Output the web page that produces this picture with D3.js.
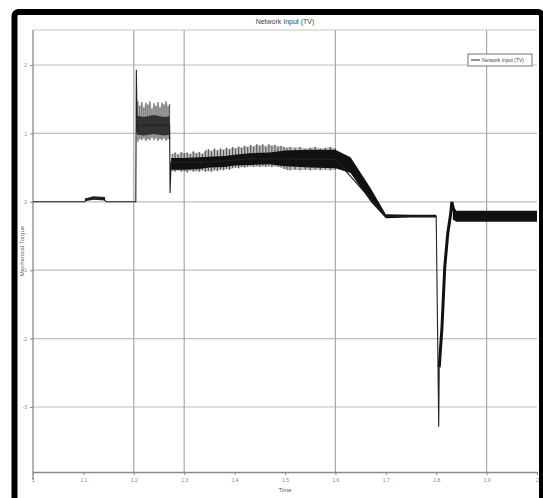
<!DOCTYPE html>
<html><head><meta charset="utf-8">
<script src="https://cdn.jsdelivr.net/npm/d3@7"></script>
<style>body{margin:0;background:#fff}svg{display:block}text{font-family:"Liberation Sans",Arial,sans-serif}</style>
</head><body><svg id="c" width="543" height="498"></svg>
<script>
const titleText = "Network Input (TV)";
const legendText = "Network Input (TV)";
const xLabel = "Time";
const yLabel = "Mechanical Torque";
const xTicks = [1, 1.1, 1.2, 1.3, 1.4, 1.5, 1.6, 1.7, 1.8, 1.9, 2];
const xTickLabels = ["1", "1.1", "1.2", "1.3", "1.4", "1.5", "1.6", "1.7", "1.8", "1.9", "2"];
const yTicks = [2, 1, 0, -1, -2, -3];
const yTickLabels = ["2", "1", "0", "-1", "-2", "-3"];
const vGrid = [1.2, 1.3, 1.6, 1.9];

// main trace [t, value]
const traceMain = [[1.0,0],[1.103,0],[1.105,0.04],[1.14,0.05],[1.145,0],[1.204,0],[1.205,1.93],[1.207,1.0],[1.209,1.12],[1.271,1.12],[1.272,0.13],[1.274,0.58],[1.35,0.58],[1.43,0.63],[1.60,0.62],[1.70,-0.21],[1.80,-0.21],[1.805,-3.29],[1.806,-2.42]];
const traceRecovery = [[1.806,-2.42],[1.8115,-1.83],[1.817,-0.95],[1.823,-0.46],[1.829,-0.16],[1.831,0.0],[1.834,-0.10],[1.84,-0.20],[2.0,-0.21]];

// outer oscillation envelope samples [t, low, high]
const stripes = [
 [1.208,0.88,1.47],[1.212,0.92,1.40],[1.216,0.90,1.46],[1.220,0.93,1.38],[1.224,0.89,1.45],[1.228,0.92,1.42],
 [1.232,0.90,1.47],[1.236,0.94,1.36],[1.240,0.90,1.44],[1.244,0.93,1.40],[1.248,0.89,1.46],[1.252,0.92,1.38],
 [1.256,0.90,1.45],[1.260,0.93,1.42],[1.264,0.89,1.47],[1.268,0.92,1.40],[1.271,0.90,1.43],
 [1.276,0.45,0.70],[1.282,0.44,0.72],[1.288,0.46,0.69],[1.294,0.44,0.73],[1.300,0.45,0.71],[1.306,0.43,0.72],
 [1.312,0.46,0.70],[1.318,0.44,0.74],[1.324,0.45,0.71],[1.330,0.44,0.73],[1.336,0.46,0.70],[1.342,0.44,0.75],
 [1.348,0.45,0.77],[1.354,0.44,0.74],[1.360,0.46,0.78],[1.366,0.45,0.75],[1.372,0.47,0.78],[1.378,0.46,0.76],
 [1.384,0.48,0.79],[1.390,0.47,0.77],[1.396,0.49,0.80],[1.402,0.50,0.78],[1.408,0.49,0.81],[1.414,0.51,0.79],
 [1.420,0.50,0.82],[1.426,0.51,0.80],[1.432,0.52,0.83],[1.438,0.51,0.81],[1.444,0.52,0.84],[1.450,0.51,0.82],
 [1.456,0.52,0.84],[1.462,0.51,0.81],[1.468,0.52,0.84],[1.474,0.51,0.82],[1.480,0.52,0.83],[1.486,0.51,0.81],
 [1.492,0.50,0.82],[1.498,0.48,0.80],[1.504,0.47,0.79],[1.510,0.46,0.80],[1.520,0.47,0.79],[1.530,0.46,0.80],
 [1.540,0.47,0.78],[1.550,0.46,0.79],[1.560,0.47,0.80],[1.570,0.46,0.78],[1.580,0.47,0.79],[1.590,0.46,0.80],[1.600,0.47,0.78]
];
// dense core envelopes [t, low, high]
const coreBump = [[1.103,0.01,0.05],[1.12,0.03,0.08],[1.143,0.02,0.07]];
const coreA = [[1.207,0.98,1.26],[1.22,0.97,1.24],[1.24,0.99,1.27],[1.26,0.97,1.24],[1.271,0.98,1.25]];
const coreB = [[1.274,0.47,0.64],[1.30,0.47,0.64],[1.33,0.48,0.65],[1.35,0.50,0.66],[1.38,0.51,0.67],[1.40,0.53,0.69],
 [1.43,0.54,0.71],[1.47,0.55,0.72],[1.50,0.52,0.75],[1.55,0.50,0.76],[1.60,0.49,0.76],[1.63,0.42,0.65],
 [1.67,0.00,0.20],[1.70,-0.24,-0.18],[1.75,-0.23,-0.19],[1.80,-0.23,-0.19]];
const coreC = [[1.833,-0.26,-0.07],[1.84,-0.29,-0.13],[1.90,-0.29,-0.13],[1.95,-0.29,-0.13],[2.0,-0.29,-0.13]];

const svg = d3.select("#c");
const L = 33, R = 537, T = 30, B = 472;
const x = d3.scaleLinear().domain([1, 2]).range([L, R]);
const y = d3.scaleLinear().domain([-3.95, 2.512]).range([B, T]);

// frame
svg.append("rect").attr("x",14.5).attr("y",12).attr("width",527.5).attr("height",520)
  .attr("rx",4).attr("fill","#fff").attr("stroke","#000").attr("stroke-width",6);

// grid
svg.append("g").selectAll("line").data(yTicks).join("line")
  .attr("x1",L).attr("x2",R).attr("y1",d=>y(d)).attr("y2",d=>y(d))
  .attr("stroke","#bdbdbd").attr("stroke-width",1.2);
svg.append("g").selectAll("line").data(vGrid).join("line")
  .attr("x1",d=>x(d)).attr("x2",d=>x(d)).attr("y1",T).attr("y2",B)
  .attr("stroke","#a8a8a8").attr("stroke-width",1.2);
svg.append("line").attr("x1",L).attr("x2",R).attr("y1",T).attr("y2",T).attr("stroke","#c8c8c8");

// axes
const xAxis = d3.axisBottom(x).tickValues(xTicks).tickFormat((d,i)=>xTickLabels[i]).tickSize(3).tickSizeOuter(0);
const gx = svg.append("g").attr("transform",`translate(0,${B})`).call(xAxis);
const yAxis = d3.axisLeft(y).tickValues(yTicks).tickFormat((d,i)=>yTickLabels[i]).tickSize(3).tickSizeOuter(0);
const gy = svg.append("g").attr("transform",`translate(${L},0)`).call(yAxis);
[gx, gy].forEach(g => {
  g.select(".domain").attr("stroke","#8a8a8a").attr("stroke-width",1.3);
  g.selectAll(".tick line").attr("stroke","#8a8a8a");
  g.selectAll(".tick text").attr("fill","#888").style("font-size","5px");
});
gy.select(".domain").attr("d",`M0,${T}V${B+8}`);

// data
const area = d3.area().x(d=>x(d[0])).y0(d=>y(d[1])).y1(d=>y(d[2]));
svg.append("path").datum(stripes.slice(0,17)).attr("d",area).attr("fill","#aaa").attr("opacity",0.5);
svg.append("path").datum(stripes.slice(17)).attr("d",area).attr("fill","#8a8a8a").attr("opacity",0.55);
svg.append("g").selectAll("line").data(stripes).join("line")
  .attr("x1",d=>x(d[0])).attr("x2",d=>x(d[0])).attr("y1",d=>y(d[1])).attr("y2",d=>y(d[2]))
  .attr("stroke","#333").attr("stroke-width",1.1).attr("opacity",0.75);
svg.append("path").datum(coreBump).attr("d",area).attr("fill","#222");
svg.append("path").datum(coreA).attr("d",area).attr("fill","#222").attr("opacity",0.85);
svg.append("path").datum(coreB).attr("d",area).attr("fill","#111");
svg.append("path").datum(coreC).attr("d",area).attr("fill","#111");
const line = d3.line().x(d=>x(d[0])).y(d=>y(d[1]));
svg.append("path").datum(traceMain).attr("d",line).attr("fill","none").attr("stroke","#222").attr("stroke-width",1.1);
svg.append("path").datum(traceRecovery).attr("d",line).attr("fill","none").attr("stroke","#111").attr("stroke-width",3);

// title and labels
svg.append("text").attr("x",(L+R)/2).attr("y",24).attr("text-anchor","middle")
  .style("font-size","7px").attr("fill","#444").text(titleText);
svg.append("text").attr("x",(L+R)/2).attr("y",492).attr("text-anchor","middle")
  .style("font-size","6px").attr("fill","#555").text(xLabel);
svg.append("text").attr("transform",`translate(24,${(T+B)/2}) rotate(-90)`).attr("text-anchor","middle")
  .style("font-size","6px").attr("fill","#666").text(yLabel);

// legend
const lg = svg.append("g").attr("transform","translate(468,54)");
lg.append("rect").attr("width",64).attr("height",12).attr("fill","#fff").attr("stroke","#777").attr("stroke-width",1);
lg.append("line").attr("x1",3).attr("x2",12).attr("y1",6).attr("y2",6).attr("stroke","#222");
lg.append("text").attr("x",14).attr("y",8).style("font-size","5px").attr("fill","#444").text(legendText);
</script></body></html>
